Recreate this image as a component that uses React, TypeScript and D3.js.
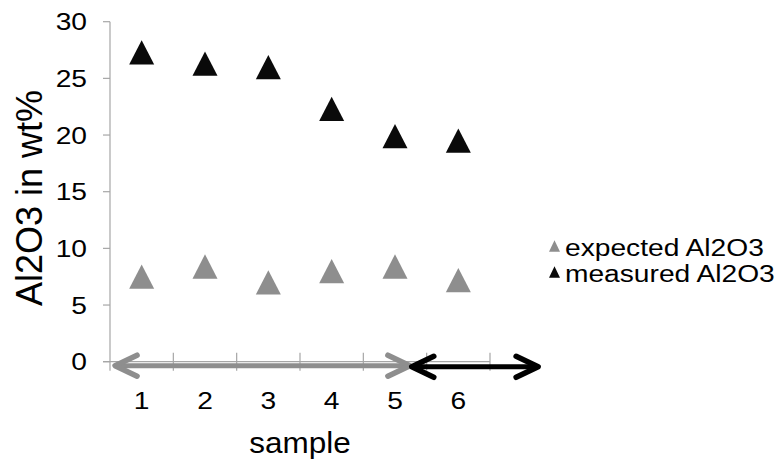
import React from "react";
import * as d3 from "d3";

const categories = ["1", "2", "3", "4", "5", "6"];
const expectedAl2O3 = [7.5, 8.4, 7.0, 8.0, 8.4, 7.2];
const measuredAl2O3 = [27.3, 26.3, 26.0, 22.3, 19.9, 19.5];
const yTicks = [0, 5, 10, 15, 20, 25, 30];
const seriesNames = ["expected Al2O3", "measured Al2O3"];
const seriesColors = ["#8e8e8e", "#0a0a0a"];
// annotation arrows in data units (x: category position, y: value)
const arrowFrom = [0.58, 5.265];
const arrowTo = [5.235, 7.26];
const arrowY = [-0.35, -0.45];
const arrowColors = ["#8e8e8e", "#000000"];

const W = 784;
const H = 463;
const FONT = "'Liberation Sans', Arial, sans-serif";

export default function App() {
  const x = d3.scaleLinear().domain([0.5, 6.5]).range([110, 490]);
  const y = d3.scaleLinear().domain([0, 30]).range([361.7, 21.7]);
  const axisColor = "#a6a6a6";

  const tri = (cx: number, cy: number, w: number, h: number) =>
    `M${cx},${cy - h / 2}L${cx + w / 2},${cy + h / 2}L${cx - w / 2},${cy + h / 2}Z`;

  const series = [expectedAl2O3, measuredAl2O3];
  const boundaries = d3.range(0, categories.length + 1).map((i) => 0.5 + i);

  const arrowHead = (tx: number, ty: number, dir: number) => {
    const back = 22;
    const spread = 10.5;
    return `M${tx - dir * back},${ty - spread}L${tx},${ty}L${tx - dir * back},${ty + spread}`;
  };

  return (
    <svg
      width={W}
      height={H}
      style={{ position: "absolute", left: 0, top: 0, background: "#fff" }}
      fontFamily={FONT}
    >
      {/* y axis */}
      <line x1={x(0.5)} x2={x(0.5)} y1={y(30)} y2={y(0) + 9} stroke={axisColor} strokeWidth={1.2} />
      {yTicks.map((t) => (
        <g key={"yt" + t}>
          <line x1={x(0.5) - 7} x2={x(0.5)} y1={y(t)} y2={y(t)} stroke={axisColor} strokeWidth={1.2} />
          <text
            transform={`translate(87,${y(t) + 8.6}) scale(1.15,1)`}
            textAnchor="end"
            fontSize={24.5}
            fill="#000"
          >
            {t}
          </text>
        </g>
      ))}
      {/* x axis */}
      <line x1={x(0.5) - 7} x2={x(6.5)} y1={y(0)} y2={y(0)} stroke={axisColor} strokeWidth={1.2} />
      {boundaries.map((b, i) =>
        i === 0 ? null : (
          <line key={"xt" + i} x1={x(b)} x2={x(b)} y1={y(0) - 9} y2={y(0) + 9} stroke={axisColor} strokeWidth={1.2} />
        )
      )}
      {categories.map((c, i) => (
        <text
          key={"xl" + c}
          transform={`translate(${x(i + 1)},409) scale(1.15,1)`}
          textAnchor="middle"
          fontSize={24.5}
          fill="#000"
        >
          {c}
        </text>
      ))}
      {/* axis titles */}
      <text transform="translate(300,453) scale(1.05,1)" textAnchor="middle" fontSize={30} fill="#000">
        sample
      </text>
      <text transform="translate(41.5,198) rotate(-90)" textAnchor="middle" fontSize={36} fill="#000">
        Al2O3 in wt%
      </text>

      {/* markers */}
      {series.map((vals, si) =>
        vals.map((v, i) => (
          <path key={`m${si}-${i}`} d={tri(x(i + 1), y(v), 25, 24.3)} fill={seriesColors[si]} />
        ))
      )}

      {/* arrows */}
      {arrowFrom.map((f, i) => {
        const x1 = x(f);
        const x2 = x(arrowTo[i]);
        const yy = y(arrowY[i]);
        return (
          <g key={"ar" + i} stroke={arrowColors[i]} fill="none" strokeLinecap="round" strokeLinejoin="round">
            <line x1={x1 + 2} x2={x2 - 2} y1={yy} y2={yy} strokeWidth={5} />
            <path d={arrowHead(x1, yy, -1)} strokeWidth={5.5} />
            <path d={arrowHead(x2, yy, 1)} strokeWidth={5.5} />
          </g>
        );
      })}

      {/* legend */}
      {seriesNames.map((name, i) => (
        <g key={"lg" + i}>
          <path d={tri(554.5, 246 + i * 26, 11, 11.7)} fill={seriesColors[i]} />
          <text
            transform={`translate(565,${256 + i * 26}) scale(1.15,1)`}
            fontSize={24.5}
            fill="#000"
          >
            {name}
          </text>
        </g>
      ))}
    </svg>
  );
}
